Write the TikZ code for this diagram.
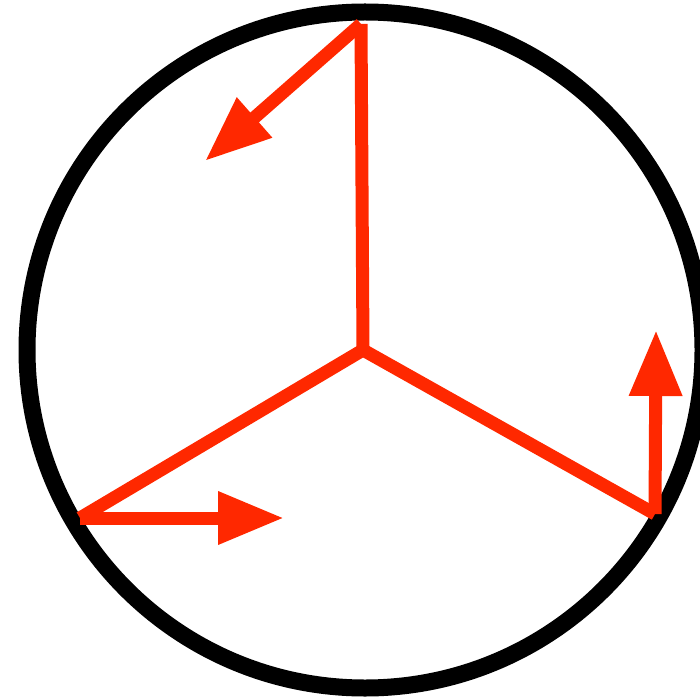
\documentclass[tikz,border=0pt]{standalone}
\usepackage{xcolor}
\usetikzlibrary{arrows.meta}
\definecolor{spokered}{RGB}{255,40,0}

\begin{document}
\begin{tikzpicture}[
  x=1pt, y=-1pt,
  rim/.style={draw=black, line width=17pt},
  spoke/.style={draw=spokered, line width=13pt, line join=miter},
  arr/.style={draw=spokered, line width=13pt, -{Triangle[length=66pt, width=50pt]}}]
  \useasboundingbox (0,0) rectangle (700,700);
  \coordinate (o) at (363,350);
  \coordinate (top) at (361,24);
  \coordinate (left) at (80,518);
  \coordinate (right) at (655,514);
  \coordinate (tiptop) at (205,161);
  \coordinate (tipleft) at (284,518);
  \coordinate (tipright) at (656,330);
  \draw[rim] (365,350) circle[radius=338];
  \draw[spoke] (top) -- (o) -- (left);
  \draw[spoke] (o) -- (right);
  \draw[arr] (top) -- (tiptop);
  \draw[arr] (left) -- (tipleft);
  \draw[arr] (right) -- (tipright);
\end{tikzpicture}
\end{document}
